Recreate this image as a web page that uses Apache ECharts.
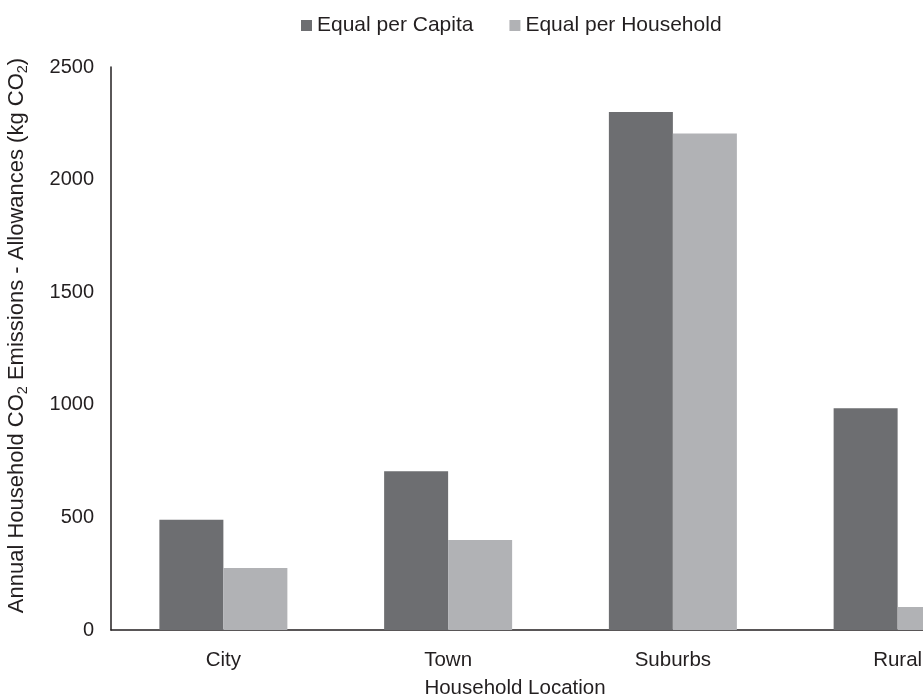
<!DOCTYPE html>
<html>
<head>
<meta charset="utf-8">
<script src="https://cdn.jsdelivr.net/npm/echarts@6/dist/echarts.min.js"></script>
<style>
  html, body { margin: 0; padding: 0; background: #fff; }
  #chart { width: 923px; height: 697px; }
</style>
</head>
<body>
<div id="chart"></div>
<script>
// data
var locations = ["City", "Town", "Suburbs", "Rural"];
var perCapita = [490, 705, 2300, 985];
var perHousehold = [275, 400, 2205, 102];
var yTicks = [0, 500, 1000, 1500, 2000, 2500];

var textColor = "#231f20";
var font = "Liberation Sans, Arial, sans-serif";

var myChart = echarts.init(document.getElementById("chart"), null, { renderer: "canvas" });

var option = {
  backgroundColor: "#fff",
  animation: false,
  textStyle: { fontFamily: font, color: textColor },
  legend: {
    top: 10,
    left: 296,
    itemWidth: 11,
    itemHeight: 11,
    itemGap: 36,
    icon: "rect",
    textStyle: { fontSize: 21, color: textColor, fontFamily: font },
    data: ["Equal per Capita", "Equal per Household"]
  },
  grid: {
    left: 111,
    top: 67,
    width: 899,
    height: 563,
    outerBoundsMode: "none",
    containLabel: false
  },
  xAxis: {
    type: "category",
    data: locations,
    name: "Household Location",
    nameLocation: "middle",
    nameGap: 48,
    nameTextStyle: { fontSize: 20.5, color: textColor, fontFamily: font, padding: [0, 0, 0, -91] },
    axisLine: { lineStyle: { color: "#231f20", width: 1.5 } },
    axisTick: { show: false },
    axisLabel: { fontSize: 20.5, color: textColor, margin: 20 }
  },
  yAxis: {
    type: "value",
    min: yTicks[0],
    max: yTicks[yTicks.length - 1],
    interval: 500,
    name: "{a|Annual Household CO}{s|2}{a| Emissions - Allowances (kg CO}{s|2}{a|)}",
    nameLocation: "middle",
    nameGap: 82,
    nameRotate: 90,
    nameTextStyle: {
      color: textColor,
      padding: [0, 0, 0, 26],
      rich: {
        a: { fontSize: 22, fontFamily: font, color: textColor, lineHeight: 24 },
        s: { fontSize: 14.5, fontFamily: font, color: textColor, lineHeight: 24, padding: [11, 0, 0, 0] }
      }
    },
    axisLine: { show: true, lineStyle: { color: "#231f20", width: 1.5 } },
    axisTick: { show: false },
    splitLine: { show: false },
    axisLabel: {
      fontSize: 20,
      color: textColor,
      margin: 17,
      formatter: function (v) { return String(v); }
    }
  },
  series: [
    {
      name: "Equal per Capita",
      type: "bar",
      data: perCapita,
      barWidth: 64,
      barGap: "0%",
      itemStyle: { color: "#6d6e71" }
    },
    {
      name: "Equal per Household",
      type: "bar",
      data: perHousehold,
      barWidth: 64,
      itemStyle: { color: "#b1b2b5" }
    }
  ]
};

myChart.setOption(option);
window.addEventListener("resize", myChart.resize);
</script>
</body>
</html>
